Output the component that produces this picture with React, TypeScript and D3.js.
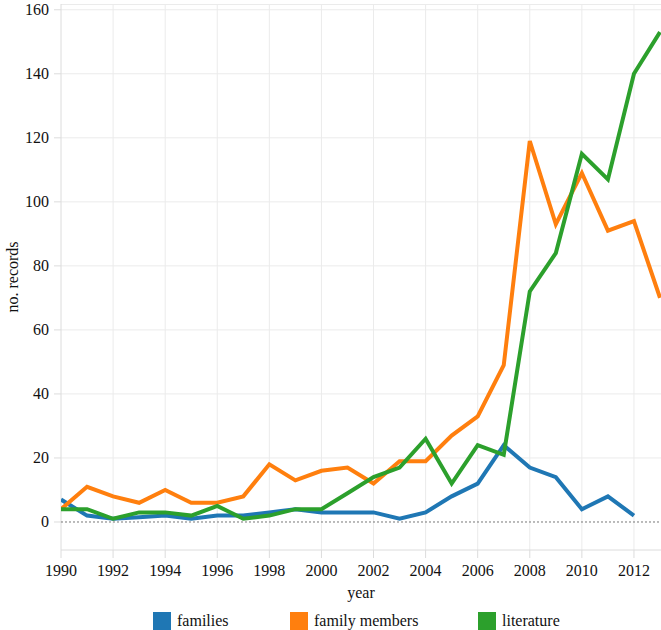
import React from "react";
import * as d3 from "d3";

const years = d3.range(1990, 2014);
const families = [7, 2, 1, 1.5, 2, 1, 2, 2, 3, 4, 3, 3, 3, 1, 3, 8, 12, 24, 17, 14, 4, 8, 2];
const familyMembers = [4, 11, 8, 6, 10, 6, 6, 8, 18, 13, 16, 17, 12, 19, 19, 27, 33, 49, 119, 93, 109, 91, 94, 70];
const literature = [4, 4, 1, 3, 3, 2, 5, 1, 2, 4, 4, 9, 14, 17, 26, 12, 24, 21, 72, 84, 115, 107, 140, 153];
const seriesNames = ["families", "family members", "literature"];
const seriesColors = ["#1f77b4", "#ff7f0e", "#2ca02c"];
const xTicks = d3.range(1990, 2013, 2);
const yTicks = [0, 20, 40, 60, 80, 100, 120, 140, 160];

const W = 661;
const H = 630;
const FONT = "Liberation Serif, Times New Roman, serif";

export default function App() {
  const x = d3.scaleLinear().domain([1990, 2013]).range([61, 660]);
  const y = d3.scaleLinear().domain([-8.75, 161.8]).range([550, 4]);
  const allSeries = [families, familyMembers, literature];
  const line = d3
    .line<[number, number]>()
    .x((d) => x(d[0]))
    .y((d) => y(d[1]));
  const legendX = [153, 290, 478];
  const grid = "#ebebeb";
  const axisCol = "#dcdcdc";
  const ts = { fontFamily: FONT, fontSize: 16, fill: "#111" } as React.CSSProperties;

  return (
    <svg
      width={W}
      height={H}
      style={{ position: "absolute", left: 0, top: 0, background: "#fff", fontFamily: FONT }}
    >
      <defs>
        <clipPath id="plot">
          <rect x={61} y={4} width={600} height={546} />
        </clipPath>
      </defs>
      {xTicks.filter((t) => t > 1990).map((t) => (
        <line key={"gx" + t} x1={x(t)} x2={x(t)} y1={4} y2={550} stroke={grid} strokeWidth={1} />
      ))}
      {yTicks.filter((t) => t > 0).map((t) => (
        <line key={"gy" + t} x1={61} x2={661} y1={y(t)} y2={y(t)} stroke={grid} strokeWidth={1} />
      ))}
      <line x1={61} x2={661} y1={4.5} y2={4.5} stroke={grid} strokeWidth={1} />
      <line x1={61} x2={61} y1={4} y2={550} stroke={axisCol} strokeWidth={1} />
      <line x1={61} x2={661} y1={550} y2={550} stroke={axisCol} strokeWidth={1} />
      <line x1={61} x2={661} y1={y(0)} y2={y(0)} stroke="#777" strokeWidth={1} strokeDasharray="2,2" />
      {yTicks.map((t) => (
        <g key={"yt" + t}>
          <line x1={54} x2={61} y1={y(t)} y2={y(t)} stroke={axisCol} />
          <text x={49} y={y(t)} dy="0.34em" textAnchor="end" style={ts}>
            {t}
          </text>
        </g>
      ))}
      {xTicks.map((t) => (
        <g key={"xt" + t}>
          <line x1={x(t)} x2={x(t)} y1={550} y2={558} stroke={axisCol} />
          <text x={x(t)} y={576} textAnchor="middle" style={ts}>
            {t}
          </text>
        </g>
      ))}
      <text x={361} y={598} textAnchor="middle" style={ts}>
        year
      </text>
      <text
        transform={`translate(18,${(4 + 550) / 2}) rotate(-90)`}
        textAnchor="middle"
        style={ts}
      >
        no. records
      </text>
      <g clipPath="url(#plot)">
        {allSeries.map((s, i) => (
          <path
            key={seriesNames[i]}
            d={line(s.map((v, j) => [years[j], v] as [number, number])) || ""}
            fill="none"
            stroke={seriesColors[i]}
            strokeWidth={4}
            strokeLinejoin="miter"
          />
        ))}
      </g>
      {seriesNames.map((n, i) => (
        <g key={"lg" + n}>
          <rect x={legendX[i]} y={612} width={18} height={18} fill={seriesColors[i]} />
          <text x={legendX[i] + 24} y={626} style={ts}>
            {n}
          </text>
        </g>
      ))}
    </svg>
  );
}
